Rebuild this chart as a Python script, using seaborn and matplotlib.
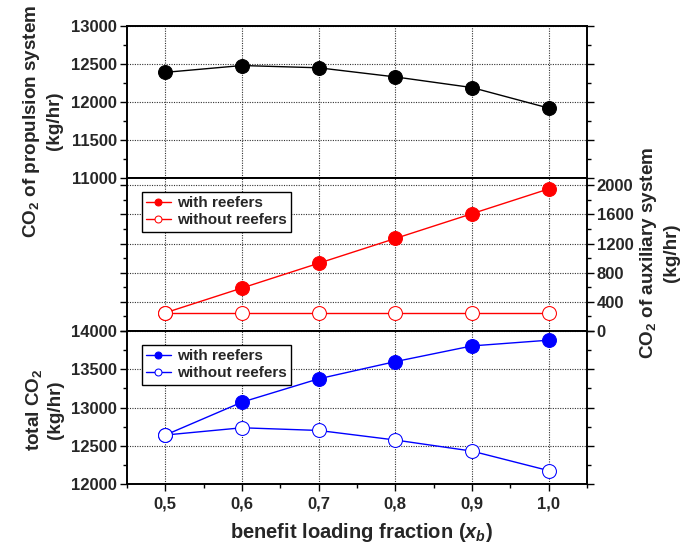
import matplotlib
matplotlib.use('Agg')
import matplotlib.pyplot as plt
import seaborn as sns
from matplotlib.ticker import MultipleLocator, FixedLocator, FixedFormatter

# benefit loading fraction on the x axis
loading = [0.5, 0.6, 0.7, 0.8, 0.9, 1.0]
tick_labels = ['0,5', '0,6', '0,7', '0,8', '0,9', '1,0']

# CO2 (kg/hr)
propulsion = [12390, 12480, 12450, 12330, 12190, 11920]
aux_with = [250, 590, 930, 1270, 1610, 1950]
aux_without = [250, 250, 250, 250, 250, 250]
total_with = [12640, 13070, 13375, 13600, 13805, 13880]
total_without = [12640, 12735, 12700, 12575, 12430, 12175]

sns.set_style('ticks')
plt.rcParams['font.family'] = ['Liberation Sans', 'DejaVu Sans']
plt.rcParams['font.weight'] = 'bold'
plt.rcParams['mathtext.fontset'] = 'custom'
plt.rcParams['mathtext.bf'] = 'Liberation Sans:bold'
plt.rcParams['mathtext.it'] = 'Liberation Sans:italic:bold'
plt.rcParams['mathtext.rm'] = 'Liberation Sans:bold'

fig = plt.figure(figsize=(6.99, 5.48), dpi=100)
L, W = 127 / 699, 460 / 699
ax1 = fig.add_axes([L, 1 - 178 / 548, W, 152 / 548])
ax2 = fig.add_axes([L, 1 - 331 / 548, W, 153 / 548])
ax3 = fig.add_axes([L, 1 - 484 / 548, W, 153 / 548])

ms = 10
sns.lineplot(x=loading, y=propulsion, ax=ax1, color='k', marker='o', markersize=ms,
             markeredgecolor='k', lw=1)
sns.lineplot(x=loading, y=aux_with, ax=ax2, color='red', marker='o', markersize=ms,
             markeredgecolor='red', lw=1, label='with reefers')
sns.lineplot(x=loading, y=aux_without, ax=ax2, color='red', marker='o', markersize=ms,
             markeredgecolor='red', markerfacecolor='white', lw=1, label='without reefers')
sns.lineplot(x=loading, y=total_with, ax=ax3, color='blue', marker='o', markersize=ms,
             markeredgecolor='blue', lw=1, label='with reefers')
sns.lineplot(x=loading, y=total_without, ax=ax3, color='blue', marker='o', markersize=ms,
             markeredgecolor='blue', markerfacecolor='white', lw=1, label='without reefers')

ax1.set_ylim(11000, 13000)
ax2.set_ylim(0, 2100)
ax3.set_ylim(12000, 14000)
for ax in (ax1, ax3):
    ax.yaxis.set_major_locator(MultipleLocator(500))
    ax.yaxis.set_minor_locator(MultipleLocator(250))
ax2.yaxis.set_major_locator(MultipleLocator(400))
ax2.yaxis.set_minor_locator(MultipleLocator(200))

for ax in (ax1, ax2, ax3):
    ax.set_xlim(0.45, 1.05)
    ax.xaxis.set_major_locator(FixedLocator(loading))
    ax.xaxis.set_minor_locator(MultipleLocator(0.05))
    ax.grid(True, which='major', ls=(0, (1, 1.2)), color='0.2', lw=0.8)
    ax.set_xlabel('')
    ax.set_ylabel('')
    for s in ax.spines.values():
        s.set_visible(True)
        s.set_linewidth(1.4)
        s.set_color('k')
    ax.tick_params(which='both', direction='out', width=1, color='k', labelsize=12)
    ax.tick_params(which='major', length=5)
    ax.tick_params(which='minor', length=3)
    ax.tick_params(axis='y', which='both', left=True, right=True, pad=2)
    for t in ax.get_yticklabels():
        t.set_fontweight('bold')

for ax in (ax1, ax2):
    ax.tick_params(axis='x', which='both', bottom=False, labelbottom=False)
ax2.tick_params(axis='y', which='both', labelleft=False, labelright=True)
ax3.tick_params(axis='x', which='both', bottom=True, labelbottom=True, pad=4)
ax3.xaxis.set_major_formatter(FixedFormatter(tick_labels))
for t in ax3.get_xticklabels():
    t.set_fontweight('bold')

for ax in (ax2, ax3):
    leg = ax.legend(loc='upper left', bbox_to_anchor=(0.015, 0.96), frameon=True,
                    fancybox=False, edgecolor='k', framealpha=1, markerscale=0.5,
                    handlelength=1.6, handletextpad=0.4, borderpad=0.3,
                    labelspacing=0.2, prop={'size': 11, 'weight': 'bold'})
    leg.get_frame().set_linewidth(1)

fig.text(42 / 699, 1 - 121 / 548, 'CO$_\\mathbf{2}$ of propulsion system\n(kg/hr)',
         rotation=90, ha='center', va='center', multialignment='center',
         fontsize=13.6, fontweight='bold', linespacing=1.25)
fig.text(44 / 699, 1 - 410 / 548, 'total CO$_\\mathbf{2}$\n(kg/hr)',
         rotation=90, ha='center', va='center', multialignment='center',
         fontsize=13.6, fontweight='bold', linespacing=1.25)
fig.text(659 / 699, 1 - 253 / 548, 'CO$_\\mathbf{2}$ of auxiliary system\n(kg/hr)',
         rotation=90, ha='center', va='center', multialignment='center',
         fontsize=13.6, fontweight='bold', linespacing=1.25)
fig.text(361 / 699, 1 - 533 / 548, 'benefit loading fraction ($x_b$)',
         ha='center', va='center', fontsize=14.5, fontweight='bold')

fig.savefig('out.png', dpi=100)
